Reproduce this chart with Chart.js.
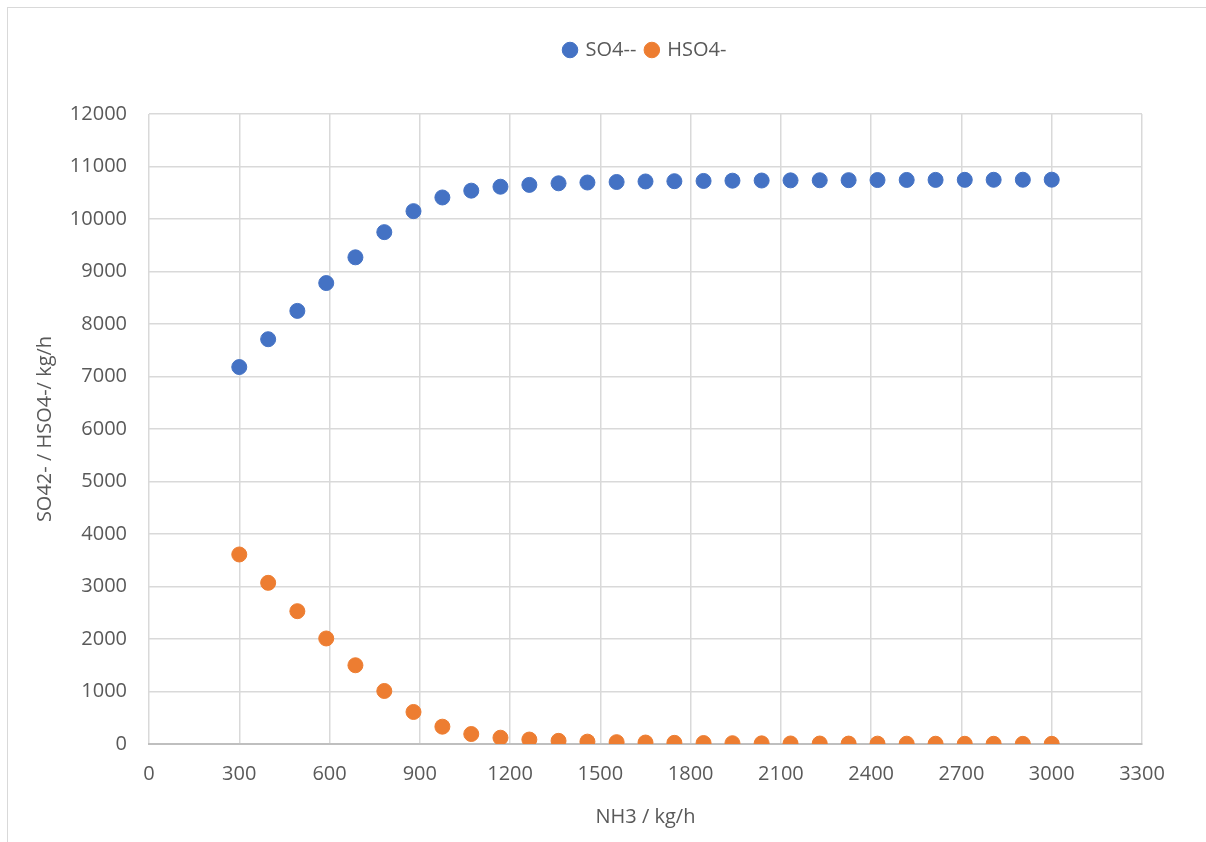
<!DOCTYPE html>
<html>
<head>
<meta charset="utf-8">
<script src="https://cdn.jsdelivr.net/npm/chart.js@4.4.1/dist/chart.umd.min.js"></script>
<style>
    html, body { margin: 0; padding: 0; background: #fff; overflow: hidden; }
    #frame { position: absolute; left: 7px; top: 7px; width: 1300px; height: 1000px; border: 1.5px solid #d9d9d9; }
    #chart-container { position: absolute; left: 0; top: 0; width: 1206px; height: 842px; }
</style>
</head>
<body>
<div id="frame"></div>
<div id="chart-container"><canvas id="scatterChart" width="1206" height="842"></canvas></div>
<script>
// NH3 feed (kg/h)
const nh3 = [300, 396, 493, 589, 686, 782, 879, 975, 1071, 1168, 1264, 1361, 1457, 1554, 1650,
    1746, 1843, 1939, 2036, 2132, 2229, 2325, 2421, 2518, 2614, 2711, 2807, 2904, 3000];
const so4 = [7180, 7710, 8250, 8780, 9270, 9750, 10150, 10410, 10540, 10615, 10650, 10680, 10695, 10705, 10715,
    10720, 10725, 10730, 10733, 10736, 10738, 10740, 10742, 10744, 10745, 10746, 10747, 10748, 10749];
const hso4 = [3610, 3070, 2530, 2010, 1500, 1010, 610, 330, 190, 120, 85, 60, 45, 35, 28,
    22, 18, 15, 12, 10, 9, 8, 7, 6, 5, 4, 4, 3, 3];
const seriesNames = ['SO4--', 'HSO4-'];

const textColor = '#595959';
const gridColor = '#d9d9d9';
const fontFamily = "'Open Sans', 'DejaVu Sans', sans-serif";

// legend sits centered over the plot area, with a gap below it
const legendOverPlot = {
    id: 'legendOverPlot',
    beforeLayout(chart) {
        const lg = chart.legend;
        if (lg && !lg._gapAdded) {
            lg._gapAdded = true;
            const origFit = lg.fit.bind(lg);
            lg.fit = function () {
                origFit();
                this.height += 44;
            };
        }
    },
    afterLayout(chart) {
        chart.legend.left = chart.chartArea.left;
        chart.legend.right = chart.chartArea.right;
    }
};

const ctx = document.getElementById('scatterChart').getContext('2d');
new Chart(ctx, {
    type: 'scatter',
    data: {
        datasets: [{
            label: seriesNames[0],
            data: nh3.map((x, i) => ({ x: x, y: so4[i] })),
            backgroundColor: '#4472c4',
            borderColor: '#4472c4',
            pointRadius: 7.5,
            pointHoverRadius: 7.5
        }, {
            label: seriesNames[1],
            data: nh3.map((x, i) => ({ x: x, y: hso4[i] })),
            backgroundColor: '#ed7d31',
            borderColor: '#ed7d31',
            pointRadius: 7.5,
            pointHoverRadius: 7.5
        }]
    },
    options: {
        responsive: false,
        animation: false,
        layout: { padding: { left: 8, right: 64, top: 30, bottom: 0 } },
        plugins: {
            tooltip: { enabled: false },
            legend: {
                position: 'top',
                labels: {
                    usePointStyle: true,
                    pointStyle: 'circle',
                    boxWidth: 11,
                    boxHeight: 11,
                    padding: 10,
                    color: textColor,
                    font: { family: fontFamily, size: 20 }
                }
            }
        },
        scales: {
            x: {
                type: 'linear',
                min: 0,
                max: 3300,
                ticks: {
                    stepSize: 300,
                    padding: 18,
                    color: textColor,
                    font: { family: fontFamily, size: 20 },
                    callback: (v) => String(v)
                },
                grid: { color: gridColor, lineWidth: 1.5, drawTicks: false },
                border: { color: '#bfbfbf', width: 2 },
                title: {
                    display: true,
                    text: 'NH3 / kg/h',
                    color: textColor,
                    font: { family: fontFamily, size: 20 },
                    padding: { top: 0, bottom: 13 }
                },
                afterFit: (scale) => { scale.height = 98; }
            },
            y: {
                min: 0,
                max: 12000,
                ticks: {
                    stepSize: 1000,
                    padding: 22,
                    color: textColor,
                    font: { family: fontFamily, size: 20 },
                    callback: (v) => String(v)
                },
                grid: { color: gridColor, lineWidth: 1.5, drawTicks: false },
                border: { display: false },
                title: {
                    display: true,
                    text: 'SO42- / HSO4-/ kg/h',
                    color: textColor,
                    font: { family: fontFamily, size: 20 },
                    padding: { top: 25, bottom: 0 }
                },
                afterFit: (scale) => { scale.width = 141; }
            }
        }
    },
    plugins: [legendOverPlot]
});
</script>
</body>
</html>
